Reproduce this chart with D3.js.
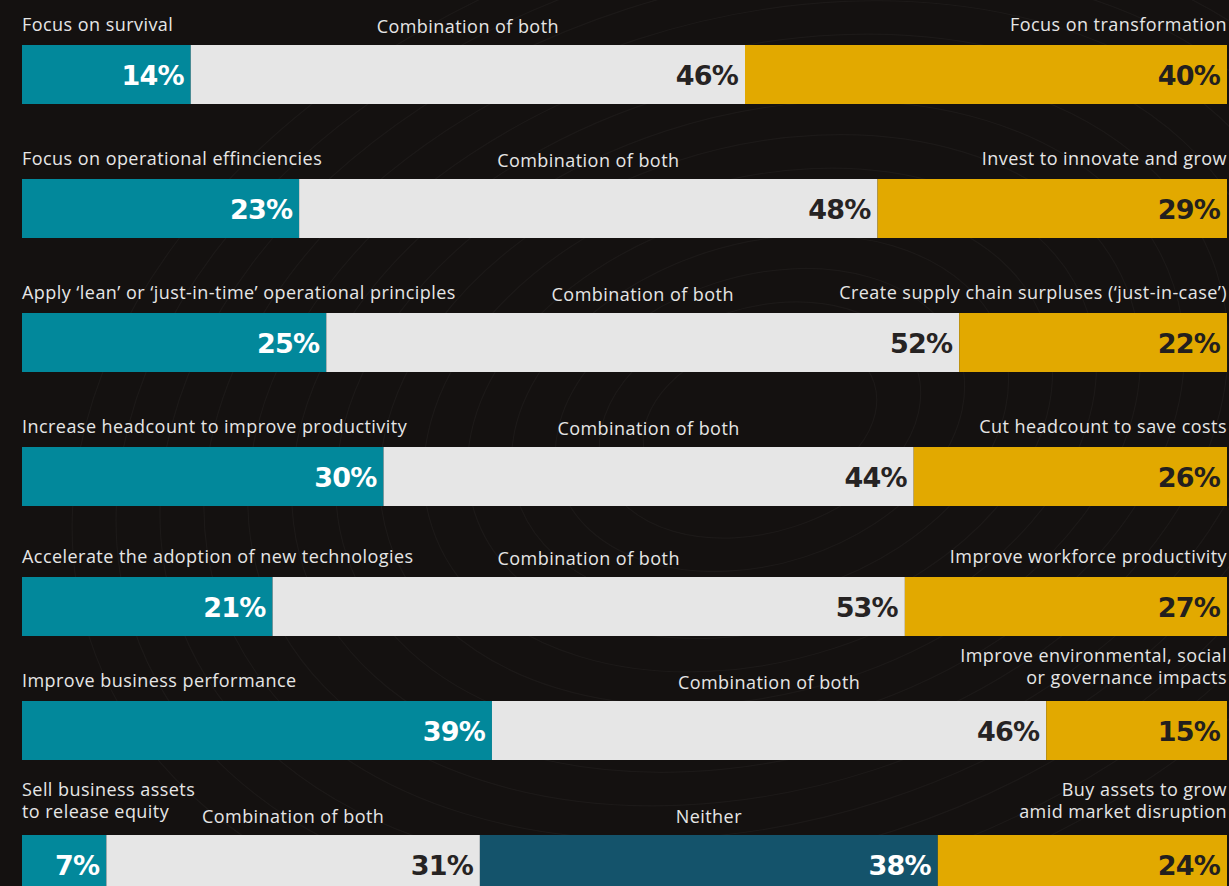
<!DOCTYPE html>
<html>
<head>
<meta charset="utf-8">
<script src="https://cdn.jsdelivr.net/npm/d3@7"></script>
<style>
  html, body { margin: 0; padding: 0; background: #141110; overflow: hidden; }
  svg { display: block; }
</style>
</head>
<body>
<script>
// data

const leftLabels = [
  ["Focus on survival"],
  ["Focus on operational effinciencies"],
  ["Apply \u2018lean\u2019 or \u2018just-in-time\u2019 operational principles"],
  ["Increase headcount to improve productivity"],
  ["Accelerate the adoption of new technologies"],
  ["Improve business performance"],
  ["Sell business assets", "to release equity"]
];
const middleLabels = ["Combination of both", "Combination of both", "Combination of both", "Combination of both", "Combination of both", "Combination of both", "Combination of both"];
const neitherLabels = ["", "", "", "", "", "", "Neither"];
const rightLabels = [
  ["Focus on transformation"],
  ["Invest to innovate and grow"],
  ["Create supply chain surpluses (\u2018just-in-case\u2019)"],
  ["Cut headcount to save costs"],
  ["Improve workforce productivity"],
  ["Improve environmental, social", "or governance impacts"],
  ["Buy assets to grow", "amid market disruption"]
];

const leftValues = [14, 23, 25, 30, 21, 39, 7];
const middleValues = [46, 48, 52, 44, 53, 46, 31];
const neitherValues = [0, 0, 0, 0, 0, 0, 38];
const rightValues = [40, 29, 22, 26, 27, 15, 24];

// colors

const colors = {
  left: "#02889b",
  middle: "#e6e6e6",
  neither: "#14536b",
  right: "#e2a900"
};
const valueColors = {
  left: "#ffffff",
  middle: "#262323",
  neither: "#ffffff",
  right: "#231f1e"
};

// layout

const w = 1229;
const h = 886;
const m = { left: 22, right: 2 };
const barH = 59;
const lineH = 22;

const body = d3.select("body");
const svg = body.append("svg")
  .attr("width", w)
  .attr("height", h);

svg.append("rect")
  .attr("width", w)
  .attr("height", h)
  .attr("fill", "#141110");

// faint swirl texture in the background
const swirl = svg.append("g")
  .attr("fill", "none")
  .attr("stroke", "#ffffff")
  .attr("stroke-opacity", 0.035);
d3.range(14).forEach(i => {
  swirl.append("ellipse")
    .attr("cx", 760)
    .attr("cy", 420)
    .attr("rx", 120 + i * 45)
    .attr("ry", 80 + i * 32)
    .attr("transform", "rotate(-18 760 420)")
    .attr("stroke-width", 1.2);
});

// row position scale (rows are not evenly spaced in the source)
const y = d3.scaleLinear()
  .domain([0, 3, 4, 5, 6])
  .range([45, 447, 577, 701, 835]);

const x = d3.scaleLinear()
  .range([m.left, w - m.right]);

const rows = leftValues.map((v, i) => {
  const segs = [
    { key: "left", value: v },
    { key: "middle", value: middleValues[i], label: middleLabels[i] },
    { key: "neither", value: neitherValues[i], label: neitherLabels[i] },
    { key: "right", value: rightValues[i] }
  ].filter(s => s.value > 0);
  const total = d3.sum(segs, s => s.value);
  let acc = 0;
  segs.forEach(s => { s.x0 = acc / total; acc += s.value; s.x1 = acc / total; });
  return { i: i, segs: segs, left: leftLabels[i], right: rightLabels[i] };
});

const labelFont = "'Open Sans', 'DejaVu Sans', sans-serif";
const valueFont = "'DejaVu Sans', sans-serif";
const labelSize = 18;
const labelSpacing = 0.45;

const row = svg.selectAll("g.row")
  .data(rows)
  .enter()
  .append("g")
  .attr("class", "row")
  .attr("transform", d => "translate(0," + y(d.i) + ")");

// segments
row.selectAll("rect.seg")
  .data(d => d.segs)
  .enter()
  .append("rect")
  .attr("class", "seg")
  .attr("x", d => x(d.x0))
  .attr("width", d => x(d.x1) - x(d.x0))
  .attr("y", 0)
  .attr("height", barH)
  .attr("fill", d => colors[d.key]);

// percent values
row.selectAll("text.val")
  .data(d => d.segs)
  .enter()
  .append("text")
  .attr("class", "val")
  .attr("x", d => x(d.x1) - 7)
  .attr("y", barH / 2 + 10)
  .attr("text-anchor", "end")
  .attr("font-family", valueFont)
  .attr("font-weight", 700)
  .attr("font-size", 27)
  .attr("letter-spacing", -0.8)
  .attr("fill", d => valueColors[d.key])
  .text(d => d.value + "%");

// middle / neither labels centred over their segment
row.selectAll("text.mid")
  .data(d => d.segs.filter(s => s.label))
  .enter()
  .append("text")
  .attr("class", "mid")
  .attr("x", d => (x(d.x0) + x(d.x1)) / 2)
  .attr("y", -12)
  .attr("text-anchor", "middle")
  .attr("font-family", labelFont)
  .attr("font-size", labelSize)
  .attr("letter-spacing", labelSpacing)
  .attr("fill", "#e6e6e6")
  .text(d => d.label);

// left and right category labels
function sideLabel(sel, side) {
  sel.each(function (d) {
    const lines = d[side];
    const last = lines.length > 1 ? -17 : -14;
    const t = d3.select(this).append("text")
      .attr("x", side === "left" ? m.left : w - m.right)
      .attr("text-anchor", side === "left" ? "start" : "end")
      .attr("font-family", labelFont)
      .attr("font-size", labelSize)
      .attr("letter-spacing", labelSpacing)
      .attr("fill", "#e6e6e6");
    lines.forEach((ln, k) => {
      t.append("tspan")
        .attr("x", side === "left" ? m.left : w - m.right)
        .attr("y", last - (lines.length - 1 - k) * lineH)
        .text(ln);
    });
  });
}
row.call(sideLabel, "left");
row.call(sideLabel, "right");
</script>
</body>
</html>
